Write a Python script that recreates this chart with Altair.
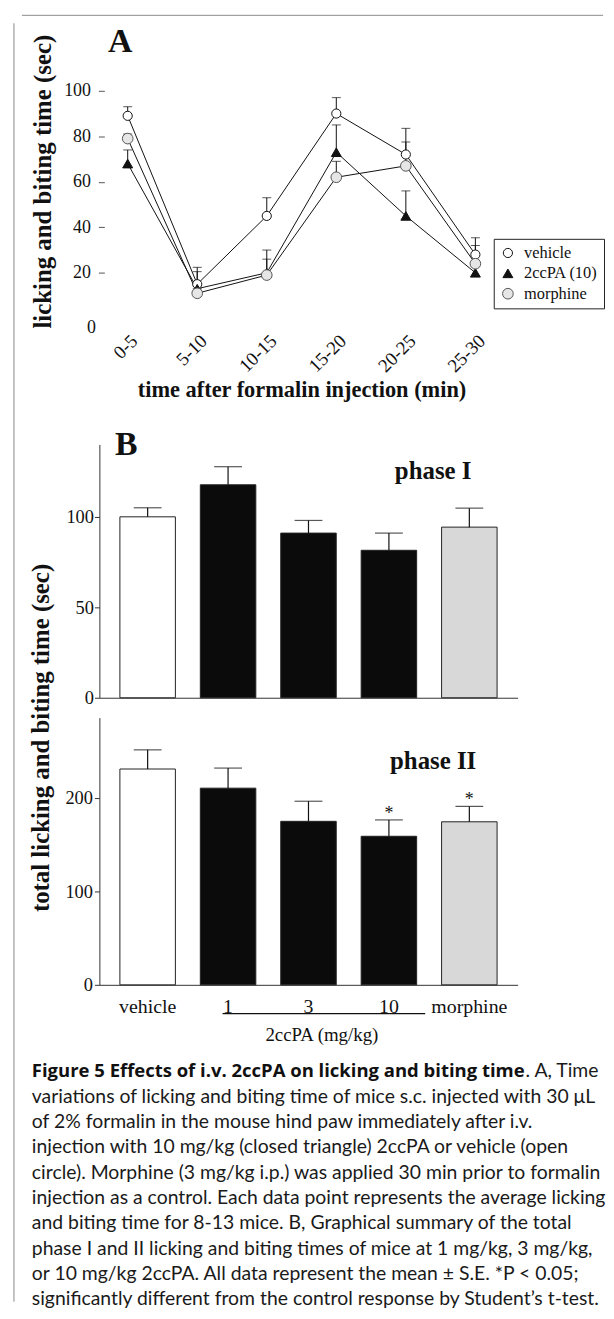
import altair as alt
import pandas as pd

SERIF = "Liberation Serif"
CAPF = "Lato"
CAPB = "Open Sans"

# ---------------- Panel A data ----------------
time_bins = ["0-5", "5-10", "10-15", "15-20", "20-25", "25-30"]
series_names = ["vehicle", "2ccPA (10)", "morphine"]
vehicle_mean = [89, 15, 45, 90, 72, 28]
vehicle_se = [4, 7.4, 8, 7, 11.5, 7.4]
ccpa_mean = [68, 13, 20, 73, 45, 20]
ccpa_se = [6, 7.5, 10, 12, 11, 3]
morphine_mean = [79, 11, 19, 62, 67, 24]
morphine_se = [2, 2, 7, 7, 10.5, 8]

# ---------------- Panel B data ----------------
groups = ["vehicle", "1", "3", "10", "morphine"]
phase1_mean = [100, 117.7, 91, 81.5, 94.3]
phase1_se = [5, 10, 7, 9.5, 10.5]
phase2_mean = [231, 210.5, 175, 159, 174.5]
phase2_se = [20.5, 21.5, 21.5, 17.5, 16.5]
phase2_sig = ["", "", "", "*", "*"]

caption_bold = "Figure 5 Effects of i.v. 2ccPA on licking and biting time"
caption_tail = ". A, Time"
caption_lines = [
    "variations of licking and biting time of mice s.c. injected with 30 \u03bcL",
    "of 2% formalin in the mouse hind paw immediately after i.v.",
    "injection with 10 mg/kg (closed triangle) 2ccPA or vehicle (open",
    "circle). Morphine (3 mg/kg i.p.) was applied 30 min prior to formalin",
    "injection as a control. Each data point represents the average licking",
    "and biting time for 8-13 mice. B, Graphical summary of the total",
    "phase I and II licking and biting times of mice at 1 mg/kg, 3 mg/kg,",
    "or 10 mg/kg 2ccPA. All data represent the mean \u00b1 S.E. *P < 0.05;",
    "significantly different from the control response by Student\u2019s t-test.",
]

# ---------------- tables ----------------
rows = []
for name, means, ses in zip(series_names, [vehicle_mean, ccpa_mean, morphine_mean],
                            [vehicle_se, ccpa_se, morphine_se]):
    for i, (b, m, s) in enumerate(zip(time_bins, means, ses)):
        rows.append({"series": name, "bin": b, "bin_order": i, "mean": m, "upper": m + s})
dfA = pd.DataFrame(rows)

df1 = pd.DataFrame({"group": groups, "mean": phase1_mean,
                    "upper": [m + s for m, s in zip(phase1_mean, phase1_se)]})
df2 = pd.DataFrame({"group": groups, "mean": phase2_mean,
                    "upper": [m + s for m, s in zip(phase2_mean, phase2_se)],
                    "sig": phase2_sig})


def one(t):
    return pd.DataFrame({"t": [t]})


# ---------------- Panel A ----------------
W_A, H_A = 407, 229
xA = alt.X("bin:N", sort=time_bins,
           scale=alt.Scale(type="point", padding=0.407),
           axis=alt.Axis(title="time after formalin injection (min)",
                         labelAngle=-45, labelAlign="right", labelBaseline="top",
                         labelPadding=13, ticks=False, domain=False,
                         labelFont=SERIF, labelFontSize=19, labelColor="#111",
                         titleFont=SERIF, titleFontSize=22.5, titleFontWeight="bold",
                         titleColor="#111", titleY=72, titleBaseline="middle"))
yA_axis = alt.Axis(values=[0, 20, 40, 60, 80, 100], offset=-5, domain=False, grid=False,
                   tickSize=6, tickColor="#555",
                   tickOpacity={"condition": {"test": "datum.value === 0", "value": 0}, "value": 1},
                   labelOffset={"condition": {"test": "datum.value === 0", "value": 9}, "value": 0},
                   labelPadding={"condition": {"test": "datum.value === 0", "value": 3}, "value": 8},
                   labelFont=SERIF, labelFontSize=18, labelColor="#111",
                   title="licking and biting time (sec)", titleFont=SERIF, titleFontSize=25,
                   titleFontWeight="bold", titleColor="#111", titleX=-62, titleY=91,
                   titleAngle=-90, titleBaseline="middle", titleAlign="center")
yA = alt.Y("mean:Q", scale=alt.Scale(domain=[0, 100], nice=False), axis=yA_axis)

legA = alt.Legend(orient="none", legendX=397, legendY=149, title=None,
                  strokeColor="#222", fillColor="white", padding=6,
                  labelFont=SERIF, labelFontSize=16.5, labelColor="#111",
                  rowPadding=3.5, labelOffset=8, symbolStrokeWidth=1)

baseA = alt.Chart(dfA)
linesA = baseA.mark_line(color="#111", strokeWidth=1).encode(
    x=xA, y=yA, detail="series:N", order="bin_order:Q")
errA = baseA.mark_rule(color="#111", strokeWidth=1).encode(
    x=xA, y=yA, y2="upper:Q", detail="series:N")
capA = baseA.mark_tick(color="#111", size=9, thickness=1).encode(
    x=xA, y=alt.Y("upper:Q"), detail="series:N")
ptsA = baseA.mark_point(filled=True, opacity=1, strokeWidth=1).encode(
    x=xA, y=yA,
    shape=alt.Shape("series:N", sort=series_names,
                    scale=alt.Scale(domain=series_names, range=["circle", "triangle-up", "circle"]),
                    legend=legA),
    fill=alt.Fill("series:N", sort=series_names,
                  scale=alt.Scale(domain=series_names, range=["white", "#111", "#e6e6e6"]),
                  legend=legA),
    stroke=alt.Stroke("series:N", sort=series_names,
                      scale=alt.Scale(domain=series_names, range=["#111", "#111", "#555"]),
                      legend=legA),
    size=alt.Size("series:N", sort=series_names,
                  scale=alt.Scale(domain=series_names, range=[85, 115, 85]),
                  legend=legA),
)
letterA = alt.Chart(one("A")).mark_text(font=SERIF, fontSize=34, fontWeight="bold",
                                        color="#111").encode(
    text="t:N", x=alt.value(21), y=alt.value(-49))
frameL = alt.Chart(one("")).mark_rule(color="#8a8a8a", strokeWidth=1).encode(
    x=alt.value(-86), y=alt.value(-68), y2=alt.value(1219))
frameT = alt.Chart(one("")).mark_rule(color="#8a8a8a", strokeWidth=1).encode(
    x=alt.value(-78), x2=alt.value(507), y=alt.value(-76))

panelA = alt.layer(frameL, frameT, linesA, errA, capA, ptsA, letterA).properties(
    width=W_A, height=H_A)

spacer = alt.Chart(one("")).mark_text().encode(text="t:N").properties(width=W_A, height=87)

# ---------------- Panel B ----------------
W_B = 421
fill_scale = alt.Scale(domain=groups, range=["white", "#0b0b0b", "#0b0b0b", "#0b0b0b", "#d8d8d8"])
xB_scale = alt.Scale(paddingInner=0.31, paddingOuter=0.255)


def phase_layers(df, ymax, y_axis, x_axis, label, label_y):
    x = alt.X("group:N", sort=groups, scale=xB_scale, axis=x_axis)
    y = alt.Y("mean:Q", scale=alt.Scale(domain=[0, ymax], nice=False), axis=y_axis)
    base = alt.Chart(df)
    bars = base.mark_bar(stroke="#222", strokeWidth=1).encode(
        x=x, y=y, fill=alt.Fill("group:N", scale=fill_scale, legend=None))
    err = base.mark_rule(color="#111", strokeWidth=1.2).encode(x=x, y=y, y2="upper:Q")
    cap = base.mark_tick(color="#111", size=28, thickness=1.2).encode(x=x, y=alt.Y("upper:Q"))
    lab = alt.Chart(one(label)).mark_text(font=SERIF, fontSize=25, fontWeight="bold",
                                          color="#111").encode(
        text="t:N", x=alt.value(336), y=alt.value(label_y))
    return base, x, [bars, err, cap, lab]


yB1_axis = alt.Axis(values=[0, 50, 100], grid=False, domainColor="#333", tickColor="#333",
                    tickSize=5, labelPadding=1, labelFont=SERIF, labelFontSize=18.5,
                    labelColor="#111", title=None)
xB1_axis = alt.Axis(labels=False, ticks=False, domainColor="#333", title=None)
base1, x1, layers1 = phase_layers(df1, 140, yB1_axis, xB1_axis, "phase I", 27)
letterB = alt.Chart(one("B")).mark_text(font=SERIF, fontSize=34, fontWeight="bold",
                                        color="#111").encode(
    text="t:N", x=alt.value(27), y=alt.value(1))
phase1 = alt.layer(*layers1, letterB).properties(width=W_B, height=255)

yB2_axis = alt.Axis(values=[0, 100, 200], grid=False, domainColor="#333", tickColor="#333",
                    tickSize=5, labelPadding=2, labelFont=SERIF, labelFontSize=18.5,
                    labelColor="#111",
                    title="total licking and biting time (sec)", titleFont=SERIF,
                    titleFontSize=25, titleFontWeight="bold", titleColor="#111",
                    titleX=-59, titleY=20, titleAngle=-90, titleBaseline="middle",
                    titleAlign="center")
xB2_axis = alt.Axis(ticks=False, domainColor="#333", title=None, labelAngle=0,
                    labelFont=SERIF, labelFontSize=20, labelColor="#111", labelPadding=12)
base2, x2, layers2 = phase_layers(df2, 286, yB2_axis, xB2_axis, "phase II", 44)
stars = base2.mark_text(font=SERIF, fontSize=18, color="#111", baseline="alphabetic", dy=-1).encode(
    x=x2, y=alt.Y("upper:Q"), text="sig:N")
underline = alt.Chart(one("")).mark_rule(color="#111", strokeWidth=1.2).encode(
    x=alt.value(124), x2=alt.value(328), y=alt.value(298))
unit_lab = alt.Chart(one("2ccPA (mg/kg)")).mark_text(font=SERIF, fontSize=19,
                                                    color="#111").encode(
    text="t:N", x=alt.value(224), y=alt.value(320))
phase2 = alt.layer(*layers2, stars, underline, unit_lab).properties(width=W_B, height=269)

# ---------------- Caption ----------------
cap_df = pd.DataFrame({"line": list(range(1, 1 + len(caption_lines))), "txt": caption_lines})
yC = alt.Y("line:Q", scale=alt.Scale(domain=[0, 9], range=[67, 296.5]), axis=None)
cap_body = alt.Chart(cap_df).mark_text(font=CAPF, fontSize=19.5, color="#1a1a1a",
                                       align="left", baseline="middle").encode(
    x=alt.value(-68), y=yC, text="txt:N")
cap_head = alt.Chart(pd.DataFrame({"line": [0], "txt": [caption_bold]})).mark_text(
    font=CAPB, fontSize=18.6, fontWeight="bold", color="#111", align="left",
    baseline="middle").encode(x=alt.value(-68), y=yC, text="txt:N")
cap_tail = alt.Chart(pd.DataFrame({"line": [0], "txt": [caption_tail]})).mark_text(
    font=CAPF, fontSize=19.5, color="#1a1a1a", align="left",
    baseline="middle").encode(x=alt.value(429), y=yC, text="txt:N")
caption = alt.layer(cap_body, cap_head, cap_tail).properties(width=W_B, height=240)

chart = alt.vconcat(panelA, spacer, phase1, phase2, caption, spacing=20, bounds="flush").resolve_scale(
    x="independent", y="independent", fill="independent", stroke="independent",
    shape="independent", size="independent"
).properties(
    padding={"left": 5, "top": 2, "right": 0, "bottom": 0}, background="white"
).configure_view(stroke=None)

chart.save("out.html", embed_options={"renderer": "svg", "actions": False})
